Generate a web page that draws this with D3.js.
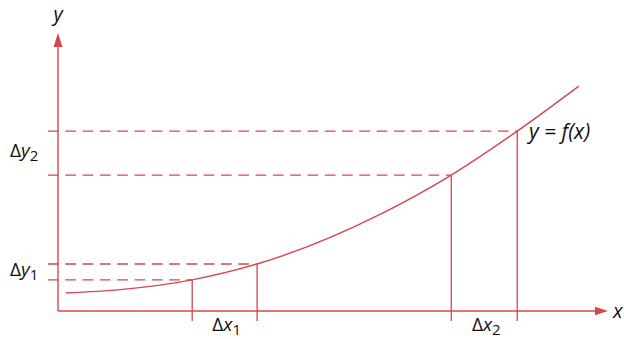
<!DOCTYPE html>
<html>
<head>
<meta charset="utf-8">
<script src="https://d3js.org/d3.v7.min.js"></script>
<style>
  body { margin: 0; background: white; }
  text { font-family: "Open Sans", "Noto Sans", sans-serif; fill: #111; }
</style>
</head>
<body>
<svg id="chart" width="624" height="339"></svg>
<script>
// curve y = f(x) (abstract units 0..100)
const curveX = [1.45, 11.3, 24.4, 36.2, 59.1, 71.5, 83.5, 94.7];
const curveY = [6.5, 7.7, 11.2, 16.9, 35.3, 48.9, 64.7, 80.9];

// the two intervals marked on the x axis and their images on the y axis
const markX = [24.4, 36.2, 71.5, 83.5];
const markY = [11.2, 16.9, 48.9, 64.7];

const deltaX = [{ sym: "x", sub: "1", a: 0, b: 1 }, { sym: "x", sub: "2", a: 2, b: 3 }];
const deltaY = [{ sym: "y", sub: "1", a: 0, b: 1 }, { sym: "y", sub: "2", a: 2, b: 3 }];

const red = "#d4474d";
const svg = d3.select("#chart");

const x = d3.scaleLinear().domain([0, 100]).range([58, 608]);
const y = d3.scaleLinear().domain([0, 100]).range([311, 33]);

// axes with arrows
svg.append("line").attr("x1", x(0)).attr("x2", x(100) - 12)
   .attr("y1", y(0)).attr("y2", y(0)).attr("stroke", red).attr("stroke-width", 1.4);
svg.append("line").attr("x1", x(0)).attr("x2", x(0))
   .attr("y1", y(0)).attr("y2", y(100) + 12).attr("stroke", red).attr("stroke-width", 1.4);
svg.append("path")
   .attr("d", `M${x(100)},${y(0)} L${x(100) - 13},${y(0) - 4.2} L${x(100) - 13},${y(0) + 4.2} Z`)
   .attr("fill", red);
svg.append("path")
   .attr("d", `M${x(0)},${y(100)} L${x(0) - 4.5},${y(100) + 14} L${x(0) + 4.5},${y(100) + 14} Z`)
   .attr("fill", red);

// dashed horizontal guides
svg.selectAll("line.dash").data(markY)
   .join("line")
   .attr("class", "dash")
   .attr("x1", x(0) - 10)
   .attr("x2", (d, i) => x(markX[i]))
   .attr("y1", d => y(d)).attr("y2", d => y(d))
   .attr("stroke", red).attr("stroke-width", 1.3)
   .attr("stroke-dasharray", "10.7,6.6");

// vertical guides
svg.selectAll("line.vert").data(markX)
   .join("line")
   .attr("class", "vert")
   .attr("x1", d => x(d)).attr("x2", d => x(d))
   .attr("y1", (d, i) => y(markY[i]))
   .attr("y2", y(0) + 10)
   .attr("stroke", red).attr("stroke-width", 1.3);

// the curve
const pts = curveX.map((d, i) => [d, curveY[i]]);
svg.append("path")
   .datum(pts)
   .attr("d", d3.line().x(d => x(d[0])).y(d => y(d[1])).curve(d3.curveMonotoneX))
   .attr("fill", "none").attr("stroke", red).attr("stroke-width", 1.4);

// labels
function delta(g, sym, sub) {
  const t = g.append("text").attr("font-size", 19);
  t.append("tspan").text("\u0394");
  t.append("tspan").attr("font-style", "italic").text(sym);
  t.append("tspan").attr("font-size", 15).attr("dy", 4).text(sub);
  return t;
}

deltaX.forEach(d => {
  const cx = (x(markX[d.a]) + x(markX[d.b])) / 2;
  delta(svg, d.sym, d.sub).attr("x", cx + 2).attr("y", 331).attr("text-anchor", "middle");
});
deltaY.forEach(d => {
  const cy = (y(markY[d.a]) + y(markY[d.b])) / 2;
  delta(svg, d.sym, d.sub).attr("x", 10).attr("y", cy + 4);
});

svg.append("text").attr("x", x(0)).attr("y", 21).attr("text-anchor", "middle")
   .attr("font-size", 20).attr("font-style", "italic").text("y");
svg.append("text").attr("x", 613).attr("y", 318)
   .attr("font-size", 20).attr("font-style", "italic").text("x");
svg.append("text").attr("x", 529).attr("y", 139)
   .attr("font-size", 21).attr("font-style", "italic").text("y = f(x)");
</script>
</body>
</html>
